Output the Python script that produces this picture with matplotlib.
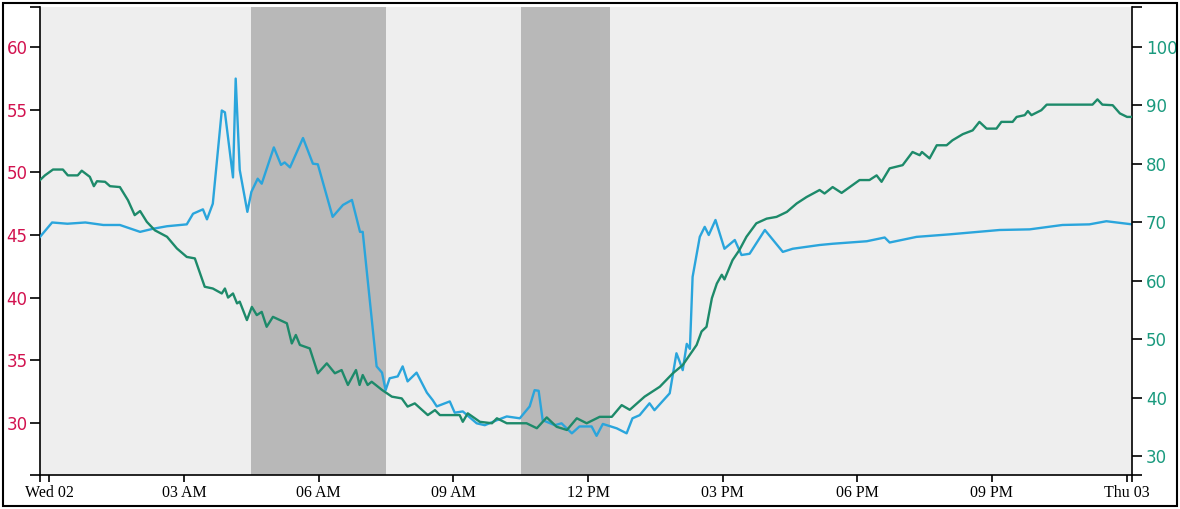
import matplotlib
matplotlib.use("Agg")
import matplotlib.pyplot as plt
from matplotlib.patches import Rectangle

# ---- data (hours since Wed 00:00) ----
blue_hours = [-0.21, 0.06, 0.40, 0.80, 1.20, 1.57, 2.02, 2.31, 2.62, 3.06, 3.20, 3.42, 3.51, 3.64,
              3.84, 3.91, 4.09, 4.15, 4.24, 4.41, 4.50, 4.64, 4.73, 5.00, 5.16, 5.24, 5.36, 5.65,
              5.87, 5.98, 6.31, 6.54, 6.74, 6.92, 6.98, 7.29, 7.41, 7.49, 7.58, 7.76, 7.87, 7.98,
              8.18, 8.41, 8.54, 8.63, 8.92, 9.03, 9.21, 9.52, 9.70, 9.97, 10.19, 10.48, 10.70,
              10.81, 10.90, 10.99, 11.26, 11.41, 11.64, 11.81, 12.08, 12.19, 12.33, 12.64, 12.86,
              12.99, 13.15, 13.37, 13.48, 13.82, 13.97, 14.04, 14.11, 14.20, 14.27, 14.33, 14.49,
              14.60, 14.69, 14.84, 15.04, 15.27, 15.42, 15.60, 15.94, 16.34, 16.56, 17.16, 17.45,
              18.21, 18.61, 18.72, 19.32, 20.05, 21.17, 21.84, 22.57, 23.17, 23.55, 24.12]
blue_values = [44.85, 46.0, 45.9, 46.0, 45.8, 45.8, 45.25, 45.5, 45.7, 45.85, 46.7, 47.05, 46.25, 47.5,
               54.95, 54.8, 49.6, 57.5, 50.2, 46.85, 48.45, 49.5, 49.1, 52.0, 50.6, 50.8, 50.4, 52.75,
               50.7, 50.65, 46.45, 47.4, 47.8, 45.25, 45.25, 34.5, 34.0, 32.6, 33.55, 33.7, 34.5, 33.3,
               34.0, 32.4, 31.8, 31.3, 31.7, 30.8, 30.9, 29.95, 29.8, 30.2, 30.5, 30.35, 31.3,
               32.6, 32.55, 30.2, 29.8, 29.95, 29.15, 29.7, 29.7, 28.95, 29.9, 29.55, 29.15,
               30.35, 30.6, 31.55, 31.0, 32.35, 35.55, 34.9, 34.2, 36.3, 35.9, 41.65, 44.85,
               45.65, 45.0, 46.2, 43.9, 44.6, 43.4, 43.5, 45.4, 43.65, 43.9, 44.2, 44.3,
               44.5, 44.8, 44.4, 44.85, 45.05, 45.4, 45.45, 45.8, 45.85, 46.1, 45.85]

green_hours = [-0.21, -0.10, 0.08, 0.30, 0.41, 0.63, 0.72, 0.90, 0.99, 1.06, 1.24, 1.35, 1.57, 1.75,
               1.90, 2.02, 2.17, 2.35, 2.62, 2.84, 3.06, 3.24, 3.46, 3.64, 3.84, 3.91, 3.98, 4.09,
               4.18, 4.24, 4.40, 4.51, 4.62, 4.73, 4.84, 4.98, 5.29, 5.40, 5.49, 5.58, 5.80, 5.98,
               6.18, 6.36, 6.51, 6.65, 6.83, 6.91, 6.98, 7.09, 7.18, 7.41, 7.63, 7.85, 7.98, 8.14,
               8.43, 8.59, 8.70, 9.14, 9.21, 9.32, 9.59, 9.86, 9.97, 10.19, 10.63, 10.86, 11.08,
               11.30, 11.53, 11.75, 11.97, 12.26, 12.53, 12.75, 12.93, 13.26, 13.60, 13.89, 14.11,
               14.42, 14.53, 14.64, 14.76, 14.87, 14.98, 15.04, 15.22, 15.37, 15.53, 15.75, 15.98,
               16.20, 16.43, 16.65, 16.87, 17.16, 17.27, 17.45, 17.65, 18.05, 18.27, 18.43, 18.54,
               18.72, 19.01, 19.23, 19.39, 19.44, 19.61, 19.77, 19.99, 20.12, 20.35, 20.57, 20.72,
               20.88, 21.10, 21.21, 21.46, 21.55, 21.73, 21.80, 21.88, 22.10, 22.22, 23.24, 23.35,
               23.46, 23.69, 23.85, 24.01, 24.12]
green_values = [77.2, 78.0, 79.0, 79.0, 78.0, 78.0, 78.8, 77.75, 76.15, 77.0, 76.9, 76.15, 76.0, 73.75,
                71.2, 71.9, 70.05, 68.6, 67.5, 65.5, 64.05, 63.8, 58.95, 58.65, 57.8, 58.65, 57.1, 57.8,
                56.1, 56.4, 53.25, 55.5, 54.1, 54.65, 52.1, 53.8, 52.7, 49.25, 50.7, 49.0, 48.4, 44.15,
                45.85, 44.15, 44.7, 42.15, 44.7, 42.15, 43.85, 42.15, 42.7, 41.3, 40.15, 39.85, 38.45, 39.0,
                37.0, 37.85, 37.0, 37.0, 35.85, 37.3, 35.85, 35.6, 36.45, 35.6, 35.6, 34.75, 36.6,
                35.0, 34.45, 36.45, 35.6, 36.7, 36.7, 38.7, 37.9, 40.15, 41.85, 44.15, 45.55,
                49.0, 51.3, 52.1, 57.0, 59.5, 61.0, 60.2, 63.5, 65.2, 67.5, 69.8, 70.6,
                70.9, 71.75, 73.2, 74.3, 75.5, 74.9, 76.0, 75.0, 77.2, 77.2, 78.0, 76.9,
                79.2, 79.75, 82.0, 81.45, 82.0, 80.9, 83.15, 83.15, 84.0, 85.05, 85.7, 87.15,
                86.0, 86.0, 87.15, 87.15, 88.0, 88.3, 89.0, 88.3, 89.15, 90.1, 90.1, 91.0,
                90.1, 90.0, 88.6, 88.0, 88.0]

shade_spans = [(4.5, 7.5), (10.5, 12.5)]

x_ticks = [0, 3, 6, 9, 12, 15, 18, 21, 24]
x_labels = ["Wed 02", "03 AM", "06 AM", "09 AM", "12 PM", "03 PM", "06 PM", "09 PM", "Thu 03"]
left_ticks = [30, 35, 40, 45, 50, 55, 60]
right_ticks = [30, 40, 50, 60, 70, 80, 90, 100]

# ---- styling ----
W, H = 1180, 509
BLUE = "#2aa5dc"
GREEN = "#1d8a6a"
RED = "#d2124f"
TEAL = "#1a9a7e"
xlim = (-0.21, 24.12)
ylim_left = (25.82, 63.22)
ylim_right = (26.75, 106.8)

fig = plt.figure(figsize=(W / 100, H / 100), dpi=100, facecolor="white")
ax = fig.add_axes([40 / W, (H - 475) / H, (1132 - 40) / W, (475 - 7) / H])
ax.set_facecolor("#eeeeee")
ax2 = ax.twinx()

for a, b in shade_spans:
    ax.axvspan(a, b, color="#b8b8b8", lw=0, zorder=1)

ax.plot(blue_hours, blue_values, color=BLUE, lw=1.7, zorder=3)
ax2.plot(green_hours, green_values, color=GREEN, lw=1.7, zorder=3)

ax.set_xlim(*xlim)
ax.set_ylim(*ylim_left)
ax2.set_ylim(*ylim_right)

ax.set_xticks(x_ticks)
ax.set_xticklabels(x_labels, fontfamily="Liberation Serif", fontsize=11.5)
ax.set_xticks(list(xlim), minor=True)
ax.set_yticks(left_ticks)
ax.set_yticklabels([str(v) for v in left_ticks], fontfamily="DejaVu Sans", fontsize=12, color=RED)
ax.set_yticks(list(ylim_left), minor=True)
ax2.set_yticks(right_ticks)
ax2.set_yticklabels([str(v) for v in right_ticks], fontfamily="DejaVu Sans", fontsize=12, color=TEAL)
ax2.set_yticks(list(ylim_right), minor=True)

for a in (ax, ax2):
    a.spines["top"].set_visible(False)
    for s in ("left", "right", "bottom"):
        a.spines[s].set_linewidth(1.2)
        a.spines[s].set_color("black")
    a.tick_params(which="both", width=1.2, color="black")
ax.tick_params(axis="x", which="both", length=5, pad=2)
ax.tick_params(axis="y", which="both", length=7, pad=2)
ax2.tick_params(axis="y", which="both", length=7, pad=3)
ax.spines["right"].set_visible(False)
ax2.spines["left"].set_visible(False)
ax2.spines["bottom"].set_visible(False)

fig.add_artist(Rectangle((3 / W, 3 / H), (W - 6) / W, (H - 6) / H, transform=fig.transFigure,
                         fill=False, edgecolor="black", lw=1.5))

fig.savefig("out.png", dpi=100, facecolor=fig.get_facecolor())
